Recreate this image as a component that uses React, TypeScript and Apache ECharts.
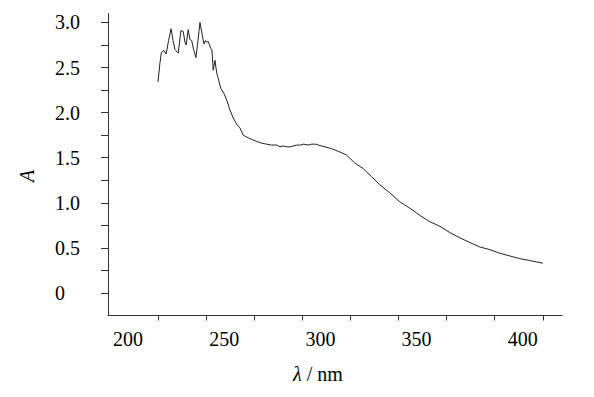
import React, { useEffect, useRef } from "react";
import * as echarts from "echarts";

const wavelengths = [
  200, 201, 201.8, 203, 204.2, 205.5, 206.8, 207.8, 208.8, 210.5, 211.9, 213.1, 214, 214.6,
  215.7, 216.6, 217.5, 218.5, 219.7, 220.8, 221.8, 222.9, 223.9, 224.7, 225.5, 226.1, 227.4,
  228.0, 228.7, 229.6, 230.5, 231.3, 232.6, 234.3, 235.7, 237.4, 239.1, 240.9, 242.6, 244.3,
  246.9, 249, 251.3, 254, 256.5, 259, 261.7, 263.4, 265, 267, 268.6, 270.3, 272, 274, 275.5,
  278, 279.8, 282, 283.3, 285, 286.8, 290.2, 293.7, 298, 302.3, 306.6, 311, 315.3, 320.5,
  325.7, 330.9, 336.1, 341.3, 346.5, 351.7, 357, 362.1, 367.3, 372.5, 377.7, 382.9, 388.1,
  393.2, 396.5, 400,
];
const absorbance = [
  2.34, 2.55, 2.67, 2.69, 2.65, 2.8, 2.93, 2.8, 2.7, 2.66, 2.91, 2.9, 2.78, 2.75,
  2.92, 2.81, 2.8, 2.7, 2.61, 2.8, 3.0, 2.87, 2.76, 2.8, 2.78, 2.79, 2.71,
  2.7, 2.47, 2.58, 2.44, 2.38, 2.27, 2.21, 2.14, 2.03, 1.94, 1.87, 1.83, 1.75,
  1.72, 1.7, 1.68, 1.66, 1.65, 1.64, 1.64, 1.62, 1.63, 1.62, 1.62, 1.63, 1.64, 1.64, 1.65,
  1.64, 1.65, 1.65, 1.64, 1.63, 1.62, 1.6, 1.57, 1.53, 1.44, 1.38, 1.29, 1.2, 1.11,
  1.01, 0.94, 0.86, 0.79, 0.74, 0.67, 0.61, 0.56, 0.51, 0.48, 0.44, 0.41, 0.38,
  0.36, 0.345, 0.33,
];

const xTickValues = [200, 225, 250, 275, 300, 325, 350, 375, 400];
const xLabelValues = [200, 250, 300, 350, 400];
const yTickValues = [0, 0.25, 0.5, 0.75, 1, 1.25, 1.5, 1.75, 2, 2.25, 2.5, 2.75, 3];
const yLabelValues = [0, 0.5, 1, 1.5, 2, 2.5, 3];

const FONT = "Liberation Serif";

export default function App() {
  const ref = useRef<HTMLDivElement>(null);

  useEffect(() => {
    if (!ref.current) return;
    const chart = echarts.init(ref.current, undefined, { renderer: "svg" });
    const data = wavelengths.map((w, i) => [w, absorbance[i]]);
    chart.setOption({
      animation: false,
      backgroundColor: "#ffffff",
      textStyle: { fontFamily: FONT },
      grid: { left: 108, right: 32, top: 13.4, bottom: 81.5, containLabel: false },
      xAxis: {
        type: "value",
        min: 174,
        max: 410,
        axisLine: { show: true, onZero: false, lineStyle: { color: "#333", width: 1 } },
        axisTick: { show: true, inside: false, length: 5, customValues: xTickValues, lineStyle: { color: "#333" } },
        axisLabel: {
          customValues: xLabelValues,
          margin: 13,
          fontFamily: FONT,
          fontSize: 20,
          color: "#000",
          formatter: (v: number) => (v === 400 ? `{b|${v}}` : `{a|${v}}`),
          rich: {
            a: { fontFamily: FONT, fontSize: 20, color: "#000", padding: [0, 60, 0, 0] },
            b: { fontFamily: FONT, fontSize: 20, color: "#000", padding: [0, 40, 0, 0] },
          },
        },
        splitLine: { show: false },
      },
      yAxis: {
        type: "value",
        min: -0.25,
        max: 3.1,
        axisLine: { show: true, onZero: false, lineStyle: { color: "#333", width: 1 } },
        axisTick: { show: true, inside: false, length: 7, customValues: yTickValues, lineStyle: { color: "#333" } },
        axisLabel: {
          customValues: yLabelValues,
          align: "left",
          margin: 53,
          fontFamily: FONT,
          fontSize: 20,
          color: "#000",
          formatter: (v: number) => (v === 0 ? "0" : v.toFixed(1)),
        },
        splitLine: { show: false },
      },
      graphic: [
        {
          type: "text",
          left: 293,
          top: 364,
          style: {
            text: "{i|λ} / nm",
            fontFamily: FONT,
            fontSize: 20,
            fill: "#000",
            rich: { i: { fontFamily: FONT, fontSize: 20, fontStyle: "italic", fill: "#000" } },
          },
        },
        {
          type: "text",
          x: 27,
          y: 176,
          rotation: Math.PI / 2,
          style: {
            text: "A",
            fontFamily: FONT,
            fontSize: 20,
            fontStyle: "italic",
            fill: "#000",
            align: "center",
            verticalAlign: "middle",
          },
        },
      ],
      series: [
        {
          type: "line",
          data,
          showSymbol: false,
          symbol: "none",
          lineStyle: { color: "#222", width: 1 },
        },
      ],
    });
    return () => chart.dispose();
  }, []);

  return (
    <div
      ref={ref}
      style={{ position: "fixed", left: 0, top: 0, width: 594, height: 397, background: "#fff" }}
    />
  );
}
